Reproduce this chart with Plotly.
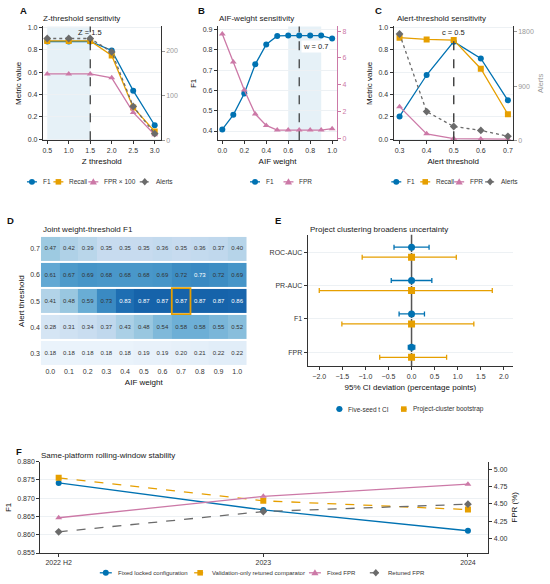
import plotly.graph_objects as go

# ---- data ----
z_thr = [0.5, 1.0, 1.5, 2.0, 2.5, 3.0]
z_f1 = [0.875, 0.875, 0.875, 0.795, 0.435, 0.125]
z_recall = [0.88, 0.88, 0.88, 0.75, 0.285, 0.07]
z_fpr100 = [0.585, 0.585, 0.585, 0.55, 0.24, 0.04]
z_alerts = [228, 228, 228, 198, 76, 15]

w_vals = [0.0, 0.1, 0.2, 0.3, 0.4, 0.5, 0.6, 0.7, 0.8, 0.9, 1.0]
w_f1 = [0.408, 0.48, 0.585, 0.729, 0.827, 0.869, 0.871, 0.871, 0.871, 0.871, 0.856]
w_fpr = [7.8, 5.7, 3.6, 1.8, 0.95, 0.6, 0.6, 0.6, 0.6, 0.6, 0.7]

c_thr = [0.3, 0.4, 0.5, 0.6, 0.7]
c_f1 = [0.204, 0.575, 0.874, 0.723, 0.348]
c_recall = [0.909, 0.894, 0.888, 0.631, 0.224]
c_fpr = [0.292, 0.048, 0.006, 0.003, 0.001]
c_alerts = [1765, 477, 230, 165, 67]

hm_x = w_vals
hm_y = [0.3, 0.4, 0.5, 0.6, 0.7]
hm_z = [
    [0.18, 0.18, 0.18, 0.18, 0.18, 0.19, 0.19, 0.20, 0.21, 0.22, 0.22],
    [0.28, 0.31, 0.34, 0.37, 0.43, 0.48, 0.54, 0.58, 0.58, 0.55, 0.52],
    [0.41, 0.48, 0.59, 0.729, 0.83, 0.87, 0.87, 0.87, 0.87, 0.87, 0.86],
    [0.61, 0.67, 0.69, 0.68, 0.68, 0.68, 0.69, 0.72, 0.732, 0.72, 0.69],
    [0.47, 0.42, 0.39, 0.35, 0.35, 0.35, 0.36, 0.35, 0.36, 0.37, 0.40],
]

ci_metrics = ["FPR", "F1", "PR-AUC", "ROC-AUC"]
seed_lo = [0.07, 0.27, 0.44, 0.38]
seed_hi = [0.07, 0.28, 0.44, 0.38]
boot_lo = [0.69, 1.51, 2.00, 1.07]
boot_hi = [0.76, 1.35, 1.75, 0.97]

windows = ["2022 H2", "2023", "2024"]
fixed_f1 = [0.8742, 0.8668, 0.8611]
retuned_f1 = [0.8756, 0.8693, 0.8669]
fixed_fpr = [4.30, 4.61, 4.786]
retuned_fpr = [4.096, 4.39, 4.496]

BLUE = "#0072B2"
ORANGE = "#E69F00"
PINK = "#CC79A7"
GRAY = "#6b6b6b"
AX = "#333333"
GRID = "#edf1f4"
FONT = "Liberation Sans, Arial, sans-serif"
W, H = 550, 584

fig = go.Figure()


def line(x, y, color, symbol, name, xa, ya, dash="solid"):
    fig.add_trace(go.Scatter(
        x=x, y=y, mode="lines+markers", name=name, xaxis=xa, yaxis=ya,
        line=dict(color=color, width=1.3, dash=dash),
        marker=dict(color=color, symbol=symbol, size=6),
        showlegend=False))


# A
line(z_thr, z_alerts, GRAY, "diamond", "Alerts", "x", "y2", dash="dot")
line(z_thr, z_f1, BLUE, "circle", "F1", "x", "y")
line(z_thr, z_recall, ORANGE, "square", "Recall", "x", "y")
line(z_thr, z_fpr100, PINK, "triangle-up", "FPR × 100", "x", "y")
# B
line(w_vals, w_f1, BLUE, "circle", "F1", "x2", "y3")
line(w_vals, w_fpr, PINK, "triangle-up", "FPR", "x2", "y4")
# C
line(c_thr, c_alerts, GRAY, "diamond", "Alerts", "x3", "y6", dash="dot")
line(c_thr, c_f1, BLUE, "circle", "F1", "x3", "y5")
line(c_thr, c_recall, ORANGE, "square", "Recall", "x3", "y5")
line(c_thr, c_fpr, PINK, "triangle-up", "FPR", "x3", "y5")

# D heatmap
blues = [[0.0, "#f7fbff"], [0.125, "#deebf7"], [0.25, "#c6dbef"], [0.375, "#9ecae1"],
         [0.5, "#6baed6"], [0.625, "#4292c6"], [0.75, "#2171b5"], [0.875, "#08519c"],
         [1.0, "#08306b"]]
fig.add_trace(go.Heatmap(x=hm_x, y=hm_y, z=hm_z, colorscale=blues, zmin=0.12, zmax=1.05,
                         showscale=False, ygap=2, xaxis="x4", yaxis="y7", hoverinfo="skip"))
tx, ty, tt, tc = [], [], [], []
for i, yy in enumerate(hm_y):
    for j, xx in enumerate(hm_x):
        v = hm_z[i][j]
        tx.append(xx)
        ty.append(yy)
        tt.append(f"{v:.2f}")
        tc.append("white" if v >= 0.73 else "#333333")
fig.add_trace(go.Scatter(x=tx, y=ty, text=tt, mode="text", textfont=dict(size=6, color=tc, family=FONT),
                         xaxis="x4", yaxis="y7", showlegend=False, hoverinfo="skip"))

# E
ypos = list(range(len(ci_metrics)))
fig.add_trace(go.Scatter(
    x=[0] * 4, y=[p + 0.15 for p in ypos], mode="markers", name="Five-seed t CI",
    marker=dict(color=BLUE, symbol="circle", size=7),
    error_x=dict(type="data", array=seed_hi, arrayminus=seed_lo, color=BLUE, thickness=1.3, width=2.5),
    xaxis="x5", yaxis="y8", showlegend=False))
fig.add_trace(go.Scatter(
    x=[0] * 4, y=[p - 0.15 for p in ypos], mode="markers", name="Project-cluster bootstrap",
    marker=dict(color=ORANGE, symbol="square", size=7),
    error_x=dict(type="data", array=boot_hi, arrayminus=boot_lo, color=ORANGE, thickness=1.3, width=2.5),
    xaxis="x5", yaxis="y8", showlegend=False))

# F
line(windows, fixed_f1, BLUE, "circle", "Fixed locked configuration", "x6", "y9")
line(windows, retuned_f1, ORANGE, "square", "Validation-only retuned comparator", "x6", "y9", dash="dash")
line(windows, fixed_fpr, PINK, "triangle-up", "Fixed FPR", "x6", "y10")
line(windows, retuned_fpr, GRAY, "diamond", "Retuned FPR", "x6", "y10", dash="dash")

# ---- compact legends drawn as paper shapes (pixel positions) ----
legend_items = [
    # (label, color, symbol, dash, center_x, y, half_len, font size)
    ("F1", BLUE, "circle", "solid", 31, 180, 5, 6.5),
    ("Recall", ORANGE, "square", "solid", 57.5, 180, 5, 6.5),
    ("FPR × 100", PINK, "triangle", "solid", 92.5, 180, 5, 6.5),
    ("Alerts", GRAY, "diamond", "dot", 144, 180, 5, 6.5),
    ("F1", BLUE, "circle", "solid", 254.5, 180, 5, 6.5),
    ("FPR", PINK, "triangle", "solid", 288, 180, 5, 6.5),
    ("F1", BLUE, "circle", "solid", 396, 180, 5, 6.5),
    ("Recall", ORANGE, "square", "solid", 425, 180, 5, 6.5),
    ("FPR", PINK, "triangle", "solid", 459, 180, 5, 6.5),
    ("Alerts", GRAY, "diamond", "dot", 490, 180, 5, 6.5),
    ("Five-seed t CI", BLUE, "circle", "solid", 339, 410, 3, 6.5),
    ("Project-cluster bootstrap", ORANGE, "square", "solid", 403.5, 410, 3, 6.5),
    ("Fixed locked configuration", BLUE, "circle", "solid", 105, 575.7, 6, 6),
    ("Validation-only retuned comparator", ORANGE, "square", "dash", 199.5, 575.7, 6, 6),
    ("Fixed FPR", PINK, "triangle", "solid", 314.5, 575.7, 6, 6),
    ("Retuned FPR", GRAY, "diamond", "dash", 375.5, 575.7, 6, 6),
]


def px(x, y):
    return f"{x / W:.5f},{1 - y / H:.5f}"


leg_shapes, leg_ann = [], []
for lab, col, sym, dsh, cx, cy, hl, fs in legend_items:
    leg_shapes.append(dict(type="line", xref="paper", yref="paper", x0=(cx - hl) / W, x1=(cx + hl) / W,
                           y0=1 - cy / H, y1=1 - cy / H, line=dict(color=col, width=1.3, dash=dsh)))
    r = 3
    if sym == "circle":
        leg_shapes.append(dict(type="circle", xref="paper", yref="paper", x0=(cx - r) / W, x1=(cx + r) / W,
                               y0=1 - (cy + r) / H, y1=1 - (cy - r) / H, fillcolor=col, line=dict(width=0)))
    else:
        if sym == "square":
            s = 2.8
            path = f"M{px(cx - s, cy - s)} L{px(cx + s, cy - s)} L{px(cx + s, cy + s)} L{px(cx - s, cy + s)} Z"
        elif sym == "triangle":
            path = f"M{px(cx, cy - 3.6)} L{px(cx + 3.6, cy + 2.6)} L{px(cx - 3.6, cy + 2.6)} Z"
        else:
            path = f"M{px(cx, cy - 3.8)} L{px(cx + 3.3, cy)} L{px(cx, cy + 3.8)} L{px(cx - 3.3, cy)} Z"
        leg_shapes.append(dict(type="path", xref="paper", yref="paper", path=path, fillcolor=col,
                               line=dict(width=0)))
    leg_ann.append(dict(text=lab, x=(cx + hl + 4) / W, y=1 - cy / H, xref="paper", yref="paper",
                        showarrow=False, xanchor="left", yanchor="middle",
                        font=dict(size=fs, color=AX, family=FONT)))

tickf = dict(size=7, color=AX, family=FONT)
titf = dict(size=8, color="#111111", family=FONT)


def xax(dom, anchor, rng, title, **kw):
    d = dict(domain=dom, anchor=anchor, range=rng, showline=True, linecolor=AX, linewidth=1.1,
             ticks="outside", ticklen=3, tickcolor=AX, tickfont=tickf, showgrid=False, zeroline=False,
             title=dict(text=title, font=titf, standoff=5))
    d.update(kw)
    return d


def yax(dom, anchor, rng, title, **kw):
    d = dict(domain=dom, anchor=anchor, range=rng, showline=True, linecolor=AX, linewidth=1.1,
             ticks="outside", ticklen=3, tickcolor=AX, tickfont=tickf, showgrid=True, gridcolor=GRID,
             zeroline=False, title=dict(text=title, font=titf, standoff=4))
    d.update(kw)
    return d


top_dom = [0.7637, 0.9611]
fig.update_layout(
    width=W, height=H, margin=dict(l=0, r=0, t=0, b=0),
    paper_bgcolor="white", plot_bgcolor="white", font=dict(family=FONT, size=7, color=AX),
    xaxis=xax([0.0764, 0.2909], "y", [0.4, 3.14], "Z threshold", tickvals=z_thr, tickformat=".1f"),
    yaxis=yax(top_dom, "x", [-0.01, 1.01], "Metric value", dtick=0.2, tickformat=".1f"),
    yaxis2=yax(top_dom, "x", [0, 255], "", overlaying="y", side="right", showgrid=False,
               tickvals=[0, 100, 200], tickfont=dict(size=7, color="#999999", family=FONT),
               tickcolor="#999999"),
    xaxis2=xax([0.3951, 0.6122], "y3", [-0.04, 1.045], "AIF weight", dtick=0.2, tickformat=".1f"),
    yaxis3=yax(top_dom, "x2", [0.354, 0.916], "F1", dtick=0.1, tickformat=".1f"),
    yaxis4=yax(top_dom, "x2", [-0.17, 8.36], "", overlaying="y3", side="right", showgrid=False,
               tickvals=[0, 2, 4, 6, 8], tickfont=dict(size=7, color=PINK, family=FONT),
               tickcolor=PINK, linecolor=PINK),
    xaxis3=xax([0.7151, 0.9322], "y5", [0.278, 0.718], "Alert threshold", tickvals=c_thr, tickformat=".1f"),
    yaxis5=yax(top_dom, "x3", [-0.01, 1.01], "Metric value", dtick=0.2, tickformat=".1f"),
    yaxis6=yax(top_dom, "x3", [0, 1890], "Alerts", overlaying="y5", side="right", showgrid=False,
               tickvals=[0, 900, 1800], tickfont=dict(size=7, color="#999999", family=FONT),
               tickcolor="#999999"),
    xaxis4=xax([0.0727, 0.4473], "y7", [-0.05, 1.05], "AIF weight", tickvals=hm_x, tickformat=".1f",
               showline=False, ticks=""),
    yaxis7=yax([0.3721, 0.5981], "x4", [0.25, 0.75], "Alert threshold", tickvals=hm_y, tickformat=".1f",
               showline=False, ticks="", showgrid=False),
    xaxis5=xax([0.5587, 0.9327], "y8", [-2.25, 2.2], "95% CI deviation (percentage points)",
               tickvals=[-2, -1.5, -1, -0.5, 0, 0.5, 1, 1.5, 2], tickformat=".1f"),
    yaxis8=yax([0.3721, 0.600], "x5", [-0.42, 3.52], "", tickvals=ypos, ticktext=ci_metrics),
    xaxis6=xax([0.0715, 0.8878], "y9", [-0.09, 2.1], "", type="category"),
    yaxis9=yax([0.0485, 0.2067], "x6", [0.855, 0.880], "F1", dtick=0.005, tickformat=".3f"),
    yaxis10=yax([0.0485, 0.2067], "x6", [3.79, 5.11], "FPR (%)", overlaying="y9", side="right",
                showgrid=False, tickvals=[4.0, 4.25, 4.5, 4.75, 5.0], tickformat=".2f"),
)
fig.layout.yaxis6.title.font = dict(size=7.5, color="#999999", family=FONT)

shapes = [
    dict(type="rect", xref="x", yref="y domain", x0=0.5, x1=1.5, y0=0, y1=1,
         fillcolor="rgba(173,208,228,0.3)", line=dict(width=0), layer="below"),
    dict(type="line", xref="x", yref="y domain", x0=1.5, x1=1.5, y0=0, y1=1,
         line=dict(color="#222222", width=1.1, dash="dash")),
    dict(type="rect", xref="x2", yref="y3 domain", x0=0.6, x1=0.9, y0=0, y1=1,
         fillcolor="rgba(173,208,228,0.3)", line=dict(width=0), layer="below"),
    dict(type="line", xref="x2", yref="y3 domain", x0=0.7, x1=0.7, y0=0, y1=1,
         line=dict(color="#222222", width=1.1, dash="dash")),
    dict(type="line", xref="x3", yref="y5 domain", x0=0.5, x1=0.5, y0=0, y1=0.93,
         line=dict(color="#444444", width=1.5, dash="dash")),
    dict(type="rect", xref="x4", yref="y7", x0=0.65, x1=0.75, y0=0.45, y1=0.55,
         line=dict(color=ORANGE, width=1.8)),
    dict(type="line", xref="x5", yref="y8 domain", x0=0, x1=0, y0=0, y1=1,
         line=dict(color="#555555", width=1.5), layer="below"),
]
fig.update_layout(shapes=shapes + leg_shapes)

ann = list(leg_ann)
for txt, x, y in [("A", 0.0418, 0.988), ("B", 0.3655, 0.988), ("C", 0.687, 0.988),
                  ("D", 0.018, 0.625), ("E", 0.505, 0.625), ("F", 0.032, 0.2248)]:
    ann.append(dict(text=f"<b>{txt}</b>", x=x, y=y, xref="paper", yref="paper", showarrow=False,
                    xanchor="center", yanchor="middle", font=dict(size=9.5, color="#111111", family=FONT)))
for txt, x, y in [("Z-threshold sensitivity", 0.0727, 0.9743), ("AIF-weight sensitivity", 0.394, 0.9743),
                  ("Alert-threshold sensitivity", 0.718, 0.9743), ("Joint weight-threshold F1", 0.0727, 0.6096),
                  ("Project clustering broadens uncertainty", 0.5595, 0.6096),
                  ("Same-platform rolling-window stability", 0.0685, 0.217)]:
    ann.append(dict(text=txt, x=x, y=y, xref="paper", yref="paper", showarrow=False,
                    xanchor="left", yanchor="middle", font=dict(size=8, color="#222222", family=FONT)))
ann.append(dict(text="Z = 1.5", x=1.5, y=0.945, xref="x", yref="y domain", showarrow=False,
                xanchor="center", yanchor="middle", font=dict(size=7.5, color="#222222", family=FONT)))
ann.append(dict(text="w = 0.7", x=0.715, y=0.82, xref="x2", yref="y3 domain", showarrow=False,
                xanchor="left", yanchor="middle", bgcolor="white", borderpad=1,
                font=dict(size=7.5, color="#222222", family=FONT)))
ann.append(dict(text="c = 0.5", x=0.5, y=0.95, xref="x3", yref="y5 domain", showarrow=False,
                xanchor="center", yanchor="middle", font=dict(size=7.5, color="#222222", family=FONT)))
fig.update_layout(annotations=ann)

# page body has a default 8px margin; drop it so the figure sits at the window origin
fig.write_html("out.html", config={"displayModeBar": False},
               post_script="document.body.style.margin='0';")
